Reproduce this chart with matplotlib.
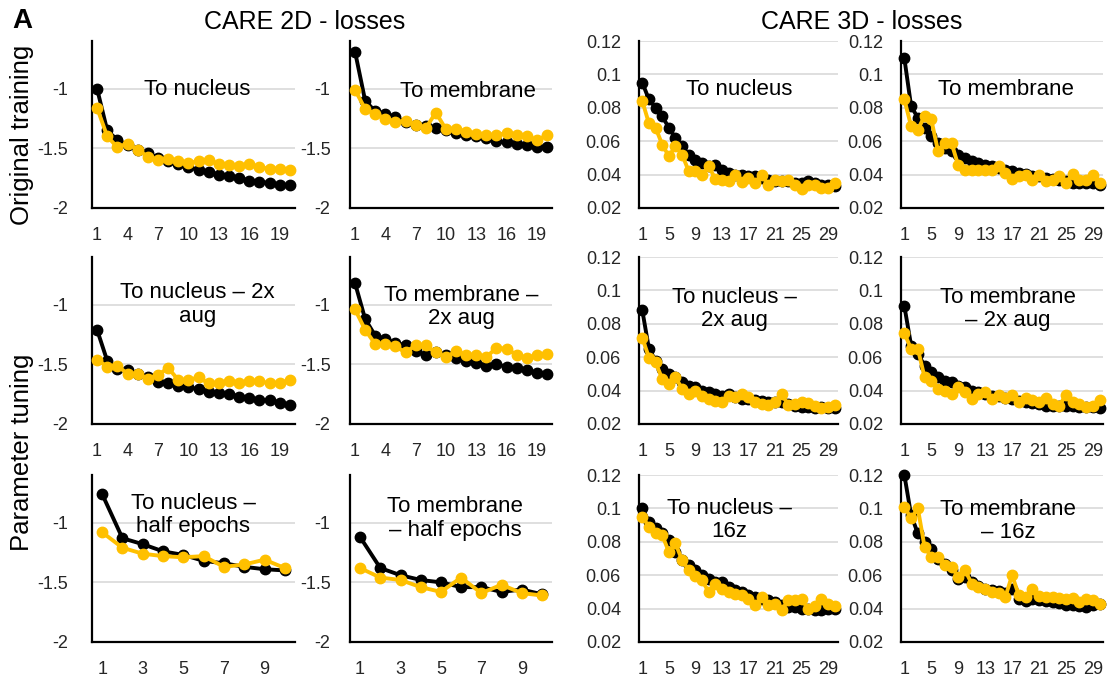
import matplotlib
matplotlib.use("Agg")
import matplotlib.pyplot as plt

plt.rcParams["font.family"] = ["Liberation Sans", "DejaVu Sans"]

# ---------------- data ----------------
epochs_2d = list(range(1, 21))
epochs_2d_half = list(range(1, 11))
epochs_3d = list(range(1, 31))

# CARE 2D - original training
nuc2d_train = [-1.00, -1.35, -1.43, -1.47, -1.51, -1.54, -1.58, -1.61, -1.63, -1.66,
               -1.68, -1.70, -1.72, -1.73, -1.75, -1.77, -1.78, -1.79, -1.81, -1.81]
nuc2d_val = [-1.16, -1.40, -1.49, -1.46, -1.51, -1.57, -1.60, -1.59, -1.61, -1.62,
             -1.61, -1.60, -1.63, -1.64, -1.65, -1.63, -1.66, -1.67, -1.67, -1.68]
mem2d_train = [-0.69, -1.10, -1.19, -1.21, -1.24, -1.28, -1.30, -1.31, -1.33, -1.35,
               -1.37, -1.39, -1.40, -1.41, -1.44, -1.45, -1.46, -1.47, -1.49, -1.49]
mem2d_val = [-1.01, -1.17, -1.21, -1.25, -1.28, -1.27, -1.30, -1.33, -1.20, -1.34,
             -1.34, -1.36, -1.38, -1.39, -1.39, -1.37, -1.39, -1.40, -1.43, -1.39]

# CARE 2D - 2x augmentation
nuc2d_aug_train = [-1.21, -1.47, -1.54, -1.55, -1.58, -1.61, -1.65, -1.66, -1.68, -1.69,
                   -1.71, -1.73, -1.74, -1.75, -1.77, -1.78, -1.80, -1.80, -1.82, -1.84]
nuc2d_aug_val = [-1.46, -1.52, -1.51, -1.58, -1.58, -1.62, -1.59, -1.53, -1.63, -1.63,
                 -1.61, -1.66, -1.66, -1.64, -1.66, -1.64, -1.64, -1.66, -1.66, -1.63]
mem2d_aug_train = [-0.82, -1.12, -1.26, -1.29, -1.32, -1.34, -1.39, -1.42, -1.40, -1.42,
                   -1.45, -1.47, -1.49, -1.51, -1.50, -1.52, -1.53, -1.55, -1.57, -1.58]
mem2d_aug_val = [-1.04, -1.21, -1.33, -1.33, -1.35, -1.40, -1.34, -1.34, -1.40, -1.44,
                 -1.39, -1.42, -1.42, -1.44, -1.36, -1.37, -1.42, -1.45, -1.42, -1.41]

# CARE 2D - half epochs
nuc2d_half_train = [-0.76, -1.13, -1.18, -1.24, -1.27, -1.32, -1.34, -1.37, -1.39, -1.40]
nuc2d_half_val = [-1.08, -1.21, -1.26, -1.28, -1.29, -1.28, -1.37, -1.35, -1.31, -1.38]
mem2d_half_train = [-1.12, -1.38, -1.44, -1.48, -1.50, -1.54, -1.54, -1.58, -1.56, -1.60]
mem2d_half_val = [-1.38, -1.46, -1.48, -1.54, -1.58, -1.46, -1.59, -1.52, -1.59, -1.61]

# CARE 3D - original training
nuc3d_train = [0.095, 0.085, 0.080, 0.075, 0.068, 0.062, 0.057, 0.052, 0.049, 0.047,
               0.045, 0.046, 0.043, 0.041, 0.040, 0.040, 0.039, 0.039, 0.038, 0.037,
               0.036, 0.036, 0.036, 0.035, 0.035, 0.036, 0.035, 0.034, 0.034, 0.033]
nuc3d_val = [0.084, 0.0706, 0.068, 0.058, 0.051, 0.057, 0.052, 0.042, 0.042, 0.040,
             0.045, 0.0375, 0.037, 0.036, 0.040, 0.0355, 0.038, 0.035, 0.040, 0.0335,
             0.0365, 0.036, 0.037, 0.034, 0.0315, 0.034, 0.034, 0.032, 0.032, 0.035]
mem3d_train = [0.1096, 0.081, 0.074, 0.068, 0.063, 0.059, 0.056, 0.054, 0.052, 0.050,
               0.048, 0.047, 0.046, 0.045, 0.044, 0.043, 0.042, 0.041, 0.0405, 0.039,
               0.039, 0.038, 0.0375, 0.037, 0.036, 0.035, 0.035, 0.035, 0.035, 0.034]
mem3d_val = [0.085, 0.069, 0.067, 0.075, 0.073, 0.054, 0.059, 0.059, 0.0455, 0.043,
             0.043, 0.0425, 0.043, 0.0425, 0.045, 0.041, 0.0375, 0.039, 0.040, 0.0365,
             0.040, 0.036, 0.037, 0.039, 0.035, 0.0405, 0.037, 0.037, 0.040, 0.035]

# CARE 3D - 2x augmentation
nuc3d_aug_train = [0.088, 0.065, 0.058, 0.053, 0.050, 0.048, 0.045, 0.043, 0.042, 0.040,
                   0.0394, 0.038, 0.037, 0.038, 0.036, 0.035, 0.035, 0.0345, 0.034, 0.0334,
                   0.033, 0.033, 0.032, 0.031, 0.030, 0.030, 0.0295, 0.030, 0.0295, 0.0295]
nuc3d_aug_val = [0.0716, 0.0597, 0.057, 0.047, 0.044, 0.048, 0.041, 0.038, 0.0395, 0.037,
                 0.035, 0.034, 0.033, 0.037, 0.036, 0.038, 0.036, 0.033, 0.032, 0.0315,
                 0.033, 0.038, 0.0315, 0.032, 0.033, 0.0325, 0.031, 0.0295, 0.030, 0.0315]
mem3d_aug_train = [0.0906, 0.067, 0.062, 0.055, 0.051, 0.048, 0.046, 0.045, 0.043, 0.042,
                   0.040, 0.039, 0.038, 0.037, 0.0367, 0.0357, 0.035, 0.034, 0.0333, 0.0325,
                   0.032, 0.031, 0.031, 0.031, 0.031, 0.0305, 0.030, 0.030, 0.030, 0.0295]
mem3d_aug_val = [0.0744, 0.065, 0.065, 0.048, 0.046, 0.041, 0.040, 0.038, 0.042, 0.039,
                 0.035, 0.038, 0.039, 0.035, 0.0374, 0.0354, 0.0374, 0.0334, 0.0354, 0.0344,
                 0.0334, 0.0354, 0.032, 0.031, 0.0374, 0.0334, 0.032, 0.030, 0.031, 0.0344]

# CARE 3D - 16 z-slices
nuc3d_16z_train = [0.100, 0.092, 0.088, 0.085, 0.081, 0.074, 0.069, 0.066, 0.063, 0.060,
                   0.058, 0.056, 0.056, 0.053, 0.051, 0.050, 0.048, 0.047, 0.046, 0.045,
                   0.044, 0.042, 0.041, 0.041, 0.040, 0.0395, 0.039, 0.039, 0.040, 0.040]
nuc3d_16z_val = [0.095, 0.089, 0.085, 0.084, 0.074, 0.079, 0.069, 0.063, 0.0597, 0.057,
                 0.050, 0.055, 0.052, 0.050, 0.049, 0.048, 0.046, 0.042, 0.047, 0.042,
                 0.043, 0.039, 0.045, 0.045, 0.046, 0.0395, 0.0415, 0.046, 0.043, 0.0415]
mem3d_16z_train = [0.120, 0.096, 0.085, 0.080, 0.0756, 0.070, 0.067, 0.063, 0.058, 0.059,
                   0.056, 0.0536, 0.052, 0.051, 0.0506, 0.0496, 0.052, 0.046, 0.0446, 0.046,
                   0.045, 0.0446, 0.044, 0.0436, 0.042, 0.042, 0.0416, 0.041, 0.042, 0.043]
mem3d_16z_val = [0.101, 0.094, 0.100, 0.077, 0.071, 0.071, 0.066, 0.065, 0.059, 0.063,
                 0.055, 0.053, 0.0516, 0.050, 0.0495, 0.047, 0.060, 0.048, 0.047, 0.0516,
                 0.0476, 0.047, 0.047, 0.0466, 0.046, 0.0465, 0.044, 0.046, 0.045, 0.0425]

panel_labels = [
    ["To nucleus", "To membrane", "To nucleus", "To membrane"],
    ["To nucleus \u2013 2x\naug", "To membrane \u2013\n2x aug", "To nucleus \u2013\n2x aug", "To membrane\n\u2013 2x aug"],
    ["To nucleus \u2013\nhalf epochs", "To membrane\n\u2013 half epochs", "To nucleus \u2013\n16z", "To membrane\n\u2013 16z"],
]

ticks_2d_y = [-2, -1.5, -1]
ticks_2d_y_labels = ["-2", "-1.5", "-1"]
ticks_3d_y = [0.02, 0.04, 0.06, 0.08, 0.10, 0.12]
ticks_3d_y_labels = ["0.02", "0.04", "0.06", "0.08", "0.1", "0.12"]

# ---------------- layout ----------------
W, H = 1115, 684
fig = plt.figure(figsize=(W / 100, H / 100), dpi=100)

col_left = [92, 350, 639, 901]
col_width = [203, 202, 199, 202]
row_top = [41, 257, 475]
ax_height = 167
label_pos = [
    [(0.52, 0.71), (0.585, 0.70), (0.505, 0.71), (0.52, 0.71)],
    [(0.52, 0.715), (0.55, 0.70), (0.48, 0.69), (0.53, 0.69)],
    [(0.50, 0.76), (0.52, 0.74), (0.455, 0.73), (0.53, 0.725)],
]
ytick_pad = [17, 14, 13, 13]

BLACK = "#000000"
GOLD = "#FFC000"

series = [
    [(epochs_2d, nuc2d_train, nuc2d_val), (epochs_2d, mem2d_train, mem2d_val),
     (epochs_3d, nuc3d_train, nuc3d_val), (epochs_3d, mem3d_train, mem3d_val)],
    [(epochs_2d, nuc2d_aug_train, nuc2d_aug_val), (epochs_2d, mem2d_aug_train, mem2d_aug_val),
     (epochs_3d, nuc3d_aug_train, nuc3d_aug_val), (epochs_3d, mem3d_aug_train, mem3d_aug_val)],
    [(epochs_2d_half, nuc2d_half_train, nuc2d_half_val), (epochs_2d_half, mem2d_half_train, mem2d_half_val),
     (epochs_3d, nuc3d_16z_train, nuc3d_16z_val), (epochs_3d, mem3d_16z_train, mem3d_16z_val)],
]

for r in range(3):
    for c in range(4):
        left = col_left[c] / W
        bottom = 1 - (row_top[r] + ax_height) / H
        ax = fig.add_axes([left, bottom, col_width[c] / W, ax_height / H])
        x, train, val = series[r][c]
        is3d = c >= 2

        if is3d:
            ax.set_ylim(0.02, 0.12)
            ax.set_yticks(ticks_3d_y, ticks_3d_y_labels)
            xt = list(range(1, 31, 4))
        else:
            ax.set_ylim(-2, -0.6)
            ax.set_yticks(ticks_2d_y, ticks_2d_y_labels)
            xt = list(range(1, len(x) + 1, 3 if len(x) == 20 else 2))
        ax.set_xlim(0.5, len(x) + 0.5)
        ax.set_xticks(xt, [str(v) for v in xt])

        ax.grid(axis="y", color="#d9d9d9", linewidth=1.2, zorder=0)
        ax.set_axisbelow(True)
        for s in ("top", "right"):
            ax.spines[s].set_visible(False)
        for s in ("left", "bottom"):
            ax.spines[s].set_linewidth(1.6)
            ax.spines[s].set_color("black")
            ax.spines[s].set_zorder(1)
        ax.tick_params(axis="x", length=0, pad=14, labelsize=13, labelcolor="#262626")
        ax.tick_params(axis="y", length=0, pad=ytick_pad[c], labelsize=13, labelcolor="#262626")

        ax.plot(x, train, color=BLACK, lw=2.8, marker="o", ms=7.5, zorder=3, clip_on=False)
        ax.plot(x, val, color=GOLD, lw=2.8, marker="o", ms=7.5, zorder=4, clip_on=False)

        tx, ty = label_pos[r][c]
        ax.text(tx, ty, panel_labels[r][c], transform=ax.transAxes, ha="center",
                va="center", fontsize=16, linespacing=1.15, zorder=5)

fig.text(12 / W, 1 - 21 / H, "A", fontsize=20, fontweight="bold", ha="left", va="center")
fig.text(305 / W, 1 - 22 / H, "CARE 2D - losses", fontsize=18, ha="center", va="center")
fig.text(862 / W, 1 - 22 / H, "CARE 3D - losses", fontsize=18, ha="center", va="center")
fig.text(22 / W, 1 - 135 / H, "Original training", fontsize=18.5, rotation=90,
         ha="center", va="center")
fig.text(22 / W, 1 - 452 / H, "Parameter tuning", fontsize=18.5, rotation=90,
         ha="center", va="center")

fig.savefig("out.png", dpi=100)
